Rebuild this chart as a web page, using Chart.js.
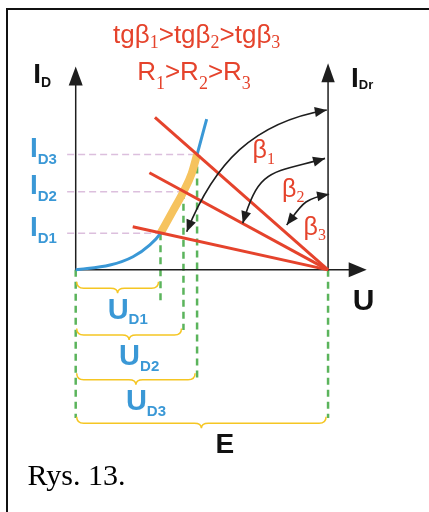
<!DOCTYPE html>
<html>
<head>
<meta charset="utf-8">
<script src="https://cdn.jsdelivr.net/npm/chart.js@4.4.0/dist/chart.umd.min.js"></script>
<style>
  html, body { margin: 0; padding: 0; background: #fff; }
  #wrap { position: relative; width: 429px; height: 512px; }
</style>
</head>
<body>
<div id="wrap"><canvas id="diagram"></canvas></div>
<script>
// supply voltage
const E = 10;

// diode characteristic I_D(U)
const diodeU = [0, 1.36, 2.27, 2.94, 3.36, 3.87, 4.27, 4.60, 4.81, 5.19];
const diodeI = [0, 0.19, 0.52, 0.99, 1.45, 2.37, 3.10, 3.83, 4.57, 5.98];

// operating points U_D1..U_D3 / I_D1..I_D3
const opU = [3.36, 4.27, 4.81];
const opI = [1.45, 3.10, 4.57];

// load lines: upper-left end of each line (the other end is at U = E, I = 0)
const loadU = [2.26, 2.92, 3.14];
const loadI = [1.71, 3.85, 6.05];

const RED = "#e5432c";
const BLUE = "#3a98d6";
const ORANGE = "#f6c35e";
const GREEN = "#5bb45c";
const PINK = "#dcbfdd";
const YELLOW = "#f5c623";
const INK = "#1e1e1e";
const SANS = '"Liberation Sans", Arial, sans-serif';
const SERIF = '"Liberation Serif", "Times New Roman", serif';

// layout (axis tips, guide ends, brace rows, arc arrows), in scale units
const axisTopL = 8.06;
const axisTopR = 8.19;
const axisEndU = 11.53;
const guideEnd = [-1.27, -2.38, -4.29];
const guideEndE = -5.87;
const braceTop = [-0.47, -2.32, -4.10, -5.82];
const arcs = [
  { u0: 9.95, i0: 6.34, u1: 4.40, i1: 1.51, d0: [1, -0.17], d1: [-0.4, 1], a: 0.4 },
  { u0: 9.88, i0: 4.42, u1: 6.62, i1: 1.85, d0: [1, -0.28], d1: [-0.3, 1], a: 0.55 },
  { u0: 10.04, i0: 3.0, u1: 8.36, i1: 1.78, d0: [1, -0.18], d1: [-0.75, 1], a: 0.5 },
];

function line(points, color, width, order, dash) {
  return {
    data: points,
    showLine: true,
    borderColor: color,
    borderWidth: width,
    borderDash: dash || [],
    borderCapStyle: "butt",
    pointRadius: 0,
    fill: false,
    order: order,
  };
}

const datasets = [];

// load lines
loadU.forEach((u, i) => {
  datasets.push(line([{ x: u, y: loadI[i] }, { x: E, y: 0 }], RED, 3, 1));
});

// highlighted part of the characteristic between the operating points
const band = diodeU
  .map((u, i) => ({ x: u, y: diodeI[i] }))
  .filter((p) => p.x >= opU[0] && p.x <= opU[2]);
datasets.push(Object.assign(line(band, ORANGE, 8, 2), { cubicInterpolationMode: "monotone" }));

// diode curve
datasets.push(
  Object.assign(
    line(diodeU.map((u, i) => ({ x: u, y: diodeI[i] })), BLUE, 3, 3),
    { cubicInterpolationMode: "monotone" }
  )
);

// axes
datasets.push(line([{ x: 0, y: 0 }, { x: 0, y: axisTopL - 0.3 }], INK, 1.5, 4));
datasets.push(line([{ x: E, y: 0 }, { x: E, y: axisTopR - 0.3 }], INK, 1.5, 4));
datasets.push(line([{ x: 0, y: 0 }, { x: axisEndU - 0.3, y: 0 }], INK, 1.5, 4));

// green guides
datasets.push(line([{ x: 0, y: 0 }, { x: 0, y: guideEndE }], GREEN, 2.5, 5, [7, 5]));
datasets.push(line([{ x: E, y: 0 }, { x: E, y: guideEndE }], GREEN, 2.5, 5, [7, 5]));
opU.forEach((u, i) => {
  datasets.push(line([{ x: u, y: opI[i] }, { x: u, y: guideEnd[i] }], GREEN, 2.5, 5, [7, 5]));
});

// pink guides to the I axis
opI.forEach((v, i) => {
  datasets.push(line([{ x: -0.34, y: v }, { x: opU[i], y: v }], PINK, 1.5, 6, [7, 4]));
});

function run(ctx, parts) {
  let w = 0;
  parts.forEach((p) => {
    ctx.font = p[1];
    w += ctx.measureText(p[0]).width;
  });
  return w;
}

function drawRun(ctx, x, y, parts, color) {
  ctx.fillStyle = color;
  ctx.textBaseline = "alphabetic";
  ctx.textAlign = "left";
  parts.forEach((p) => {
    ctx.font = p[1];
    ctx.fillText(p[0], x, y + (p[2] || 0));
    x += ctx.measureText(p[0]).width;
  });
}

function head(ctx, tx, ty, dx, dy, len, half) {
  const n = Math.hypot(dx, dy);
  dx /= n;
  dy /= n;
  ctx.beginPath();
  ctx.moveTo(tx, ty);
  ctx.lineTo(tx - dx * len - dy * half, ty - dy * len + dx * half);
  ctx.lineTo(tx - dx * len + dy * half, ty - dy * len - dx * half);
  ctx.closePath();
  ctx.fill();
}

function brace(ctx, x0, x1, top) {
  const mid = (x0 + x1) / 2;
  const ln = top + 6.5;
  const tip = top + 11.5;
  const r = 7;
  ctx.beginPath();
  ctx.moveTo(x0, top);
  ctx.quadraticCurveTo(x0, ln, x0 + r, ln);
  ctx.lineTo(mid - r, ln);
  ctx.quadraticCurveTo(mid, ln, mid, tip);
  ctx.quadraticCurveTo(mid, ln, mid + r, ln);
  ctx.lineTo(x1 - r, ln);
  ctx.quadraticCurveTo(x1, ln, x1, top);
  ctx.stroke();
}

const sketch = {
  id: "sketch",
  afterDatasetsDraw(chart) {
    const ctx = chart.ctx;
    const X = (v) => chart.scales.x.getPixelForValue(v);
    const Y = (v) => chart.scales.y.getPixelForValue(v);
    ctx.save();

    // frame
    ctx.strokeStyle = "#111";
    ctx.lineWidth = 2;
    ctx.beginPath();
    ctx.moveTo(7, 512);
    ctx.lineTo(7, 9);
    ctx.lineTo(429, 9);
    ctx.stroke();

    // axis arrowheads
    ctx.fillStyle = INK;
    head(ctx, X(0), Y(axisTopL), 0, -1, 19, 7);
    head(ctx, X(E), Y(axisTopR), 0, -1, 19, 6.7);
    head(ctx, X(axisEndU), Y(0), 1, 0, 18, 7.5);

    // angle arrows
    ctx.strokeStyle = INK;
    ctx.lineWidth = 1.6;
    arcs.forEach((a) => {
      const p0 = [X(a.u0), Y(a.i0)];
      const p1 = [X(a.u1), Y(a.i1)];
      const L = Math.hypot(p1[0] - p0[0], p1[1] - p0[1]) * a.a;
      const n0 = Math.hypot(a.d0[0], a.d0[1]);
      const n1 = Math.hypot(a.d1[0], a.d1[1]);
      const c1 = [p0[0] - (a.d0[0] / n0) * L, p0[1] - (a.d0[1] / n0) * L];
      const c2 = [p1[0] - (a.d1[0] / n1) * L, p1[1] - (a.d1[1] / n1) * L];
      ctx.beginPath();
      ctx.moveTo(p0[0], p0[1]);
      ctx.bezierCurveTo(c1[0], c1[1], c2[0], c2[1], p1[0], p1[1]);
      ctx.stroke();
      head(ctx, p0[0], p0[1], a.d0[0], a.d0[1], 12, 5);
      head(ctx, p1[0], p1[1], a.d1[0], a.d1[1], 12, 5);
    });

    // braces
    ctx.strokeStyle = YELLOW;
    ctx.lineWidth = 1.5;
    const spans = opU.concat([E]);
    spans.forEach((u, i) => {
      brace(ctx, X(0) + 1, X(u) - 2, Y(braceTop[i]));
    });

    // U_D labels under the braces
    opU.forEach((u, i) => {
      const cx = (X(0) + X(u)) / 2;
      const top = Y(braceTop[i]);
      ctx.font = "bold 29px " + SANS;
      const wU = ctx.measureText("U").width;
      drawRun(ctx, cx - wU / 2, top + 37, [
        ["U", "bold 29px " + SANS],
        ["D" + (i + 1), "bold 15px " + SANS, 5.5],
      ], BLUE);
    });
    ctx.font = "bold 28px " + SANS;
    ctx.textAlign = "center";
    ctx.fillStyle = "#111";
    ctx.fillText("E", (X(0) + X(E)) / 2 + 23, Y(braceTop[3]) + 36.5);

    // I_D labels at the operating levels
    opI.forEach((v, i) => {
      drawRun(ctx, X(0) - 45.7, Y(v) + 2.5, [
        ["I", "bold 28px " + SANS],
        ["D" + (i + 1), "bold 15px " + SANS, 7.3],
      ], BLUE);
    });

    // axis titles
    drawRun(ctx, X(0) - 42.5, Y(axisTopL) + 16.8, [
      ["I", "bold 28px " + SANS],
      ["D", "bold 14px " + SANS, 3.4],
    ], "#111");
    drawRun(ctx, X(E) + 23, Y(axisTopR) + 23.4, [
      ["I", "bold 28px " + SANS],
      ["Dr", "bold 13px " + SANS, 1.8],
    ], "#111");
    drawRun(ctx, X(axisEndU) - 14, Y(0) + 40, [["U", "bold 30px " + SANS]], "#111");

    // beta labels
    [[252.5, 158, "1"], [282, 196.5, "2"], [303.5, 234.8, "3"]].forEach((b) => {
      drawRun(ctx, b[0], b[1], [
        ["β", "25px " + SANS],
        [b[2], "16px " + SERIF, 5.5],
      ], RED);
    });

    // title
    const t1 = [];
    ["1", "2", "3"].forEach((s, i) => {
      t1.push(["tgβ", "26px " + SANS]);
      t1.push([s, "18px " + SERIF, 5]);
      if (i < 2) t1.push([">", "26px " + SANS]);
    });
    drawRun(ctx, 196.7 - run(ctx, t1) / 2, 43.3, t1, RED);
    const t2 = [];
    ["1", "2", "3"].forEach((s, i) => {
      t2.push(["R", "26px " + SANS]);
      t2.push([s, "18px " + SERIF, 9]);
      if (i < 2) t2.push([">", "26px " + SANS]);
    });
    drawRun(ctx, 194 - run(ctx, t2) / 2, 80, t2, RED);

    // caption
    drawRun(ctx, 27.5, 485, [["Rys. 13.", "30px " + SERIF]], "#000");

    ctx.restore();
  },
};

new Chart(document.getElementById("diagram"), {
  type: "scatter",
  data: { datasets: datasets },
  options: {
    responsive: true,
    maintainAspectRatio: false,
    animation: false,
    events: [],
    layout: { padding: 0 },
    plugins: { legend: { display: false }, tooltip: { enabled: false } },
    scales: {
      x: { type: "linear", min: -3, max: 14, display: false },
      y: { type: "linear", min: -9.6, max: 10.7, display: false },
    },
  },
  plugins: [sketch],
});
</script>
</body>
</html>
